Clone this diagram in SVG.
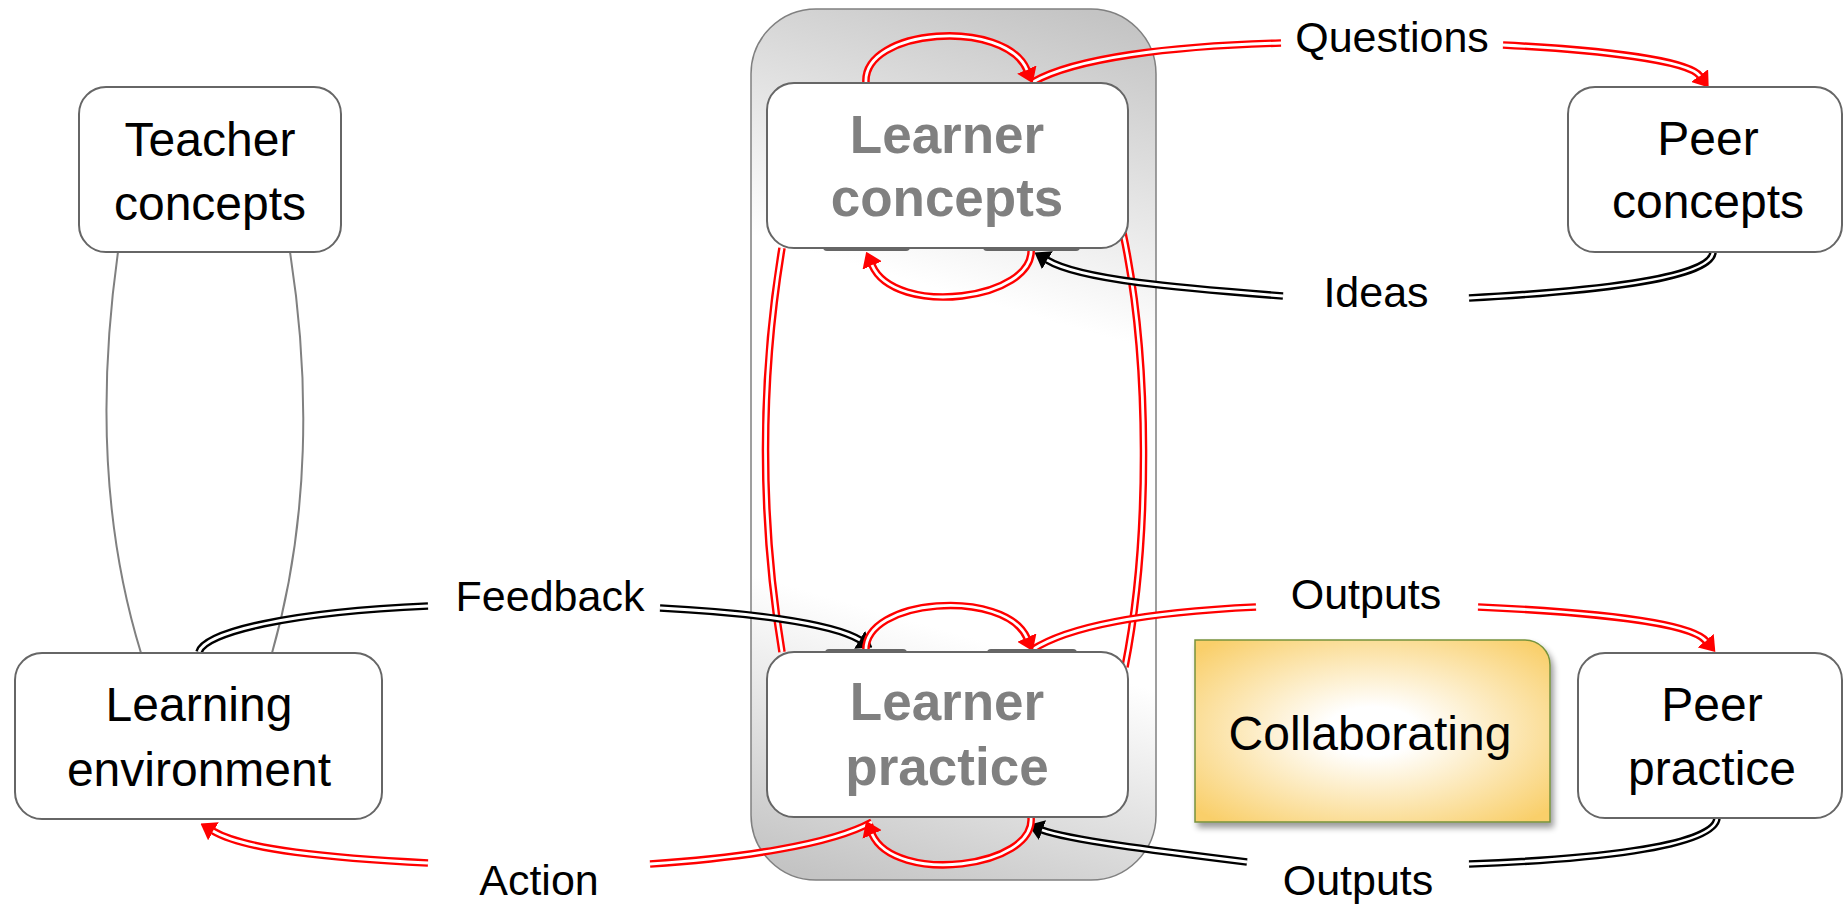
<svg xmlns="http://www.w3.org/2000/svg" width="1844" height="906" viewBox="0 0 1844 906">
<defs>
<style>
.box{fill:#fff;stroke:#666;stroke-width:2}
.t{font-family:"Liberation Sans",Arial,sans-serif;font-size:48px;fill:#000;text-anchor:middle}
.lt{font-family:"Liberation Sans",Arial,sans-serif;font-size:53px;font-weight:bold;fill:#808080;text-anchor:middle}
.lbl{font-family:"Liberation Sans",Arial,sans-serif;font-size:43px;fill:#000;text-anchor:middle}
.r{fill:none;stroke:#f00;stroke-width:7.6}
.k{fill:none;stroke:#000;stroke-width:7.6}
.w{fill:none;stroke:#fff;stroke-width:2.8}
.g{fill:none;stroke:#808080;stroke-width:2}
.ra{marker-end:url(#ar)}
.ka{marker-end:url(#ak)}
.tab{fill:#666}
</style>
<marker id="ar" markerUnits="userSpaceOnUse" markerWidth="15" markerHeight="21" refX="0.5" refY="10.5" orient="auto" viewBox="0 0 15 21"><path d="M0,0 L15,10.5 L0,21 z" fill="#f00"/></marker>
<marker id="ak" markerUnits="userSpaceOnUse" markerWidth="15" markerHeight="21" refX="0.5" refY="10.5" orient="auto" viewBox="0 0 15 21"><path d="M0,0 L15,10.5 L0,21 z" fill="#000"/></marker>
<linearGradient id="cg" gradientUnits="userSpaceOnUse" x1="1080" y1="9" x2="830" y2="880">
<stop offset="0" stop-color="#c4c4c4"/><stop offset="0.34" stop-color="#fff"/><stop offset="0.7" stop-color="#fff"/><stop offset="1" stop-color="#c4c4c4"/>
</linearGradient>
<radialGradient id="cb" cx="0.5" cy="0.5" r="0.66">
<stop offset="0" stop-color="#fff"/><stop offset="0.2" stop-color="#fff"/><stop offset="1" stop-color="#f9cf6a"/>
</radialGradient>
<filter id="sh" x="-5%" y="-5%" width="115%" height="120%">
<feGaussianBlur in="SourceAlpha" stdDeviation="3" result="b"/>
<feOffset in="b" dx="3" dy="5" result="o"/>
<feComponentTransfer in="o" result="s"><feFuncA type="linear" slope="0.4"/></feComponentTransfer>
<feMerge><feMergeNode in="s"/><feMergeNode in="SourceGraphic"/></feMerge>
</filter>
</defs>

<g id="learner-container">
<rect x="751" y="9" width="405" height="871" rx="65" fill="url(#cg)" stroke="#808080" stroke-width="1.5"/>
</g>

<g id="connectors">
<!-- Teacher concepts - Learning environment -->
<path class="g" d="M118,252 C100,380 100,520 141,653"/>
<path class="g" d="M290,252 C310,380 310,520 272,653"/>

<!-- Long verticals between learner boxes -->
<path class="r" d="M782,248 C760,380 760,520 782,652"/>
<path class="w" d="M782,248 C760,380 760,520 782,652"/>
<path class="r" d="M1123,233 C1150,360 1150,540 1125,667"/>
<path class="w" d="M1123,233 C1150,360 1150,540 1125,667"/>

<!-- Feedback -->
<path class="k" d="M199,652 C205,632 290,612 428,606"/>
<path class="w" d="M199,652 C205,632 290,612 428,606"/>
<path class="k ka" d="M660,608 C740,612 830,622 860,640"/>
<path class="w" d="M660,608 C740,612 830,622 860,640"/>
<text class="lbl" x="550" y="611">Feedback</text>

<!-- Action -->
<path class="r" d="M650,864 C740,858 830,845 872,822"/>
<path class="w" d="M650,864 C740,858 830,845 872,822"/>
<path class="r ra" d="M428,863 C330,858 245,850 213,831"/>
<path class="w" d="M428,863 C330,858 245,850 213,831"/>
<text class="lbl" x="539" y="895">Action</text>

<!-- Questions -->
<path class="r" d="M1033,82 C1075,58 1170,46 1281,43"/>
<path class="w" d="M1033,82 C1075,58 1170,46 1281,43"/>
<path class="r ra" d="M1503,45 C1600,50 1688,60 1700,76"/>
<path class="w" d="M1503,45 C1600,50 1688,60 1700,76"/>
<text class="lbl" x="1392" y="52">Questions</text>

<!-- Ideas -->
<path class="k" d="M1713,252 C1712,280 1580,292 1469,298"/>
<path class="w" d="M1713,252 C1712,280 1580,292 1469,298"/>
<path class="k ka" d="M1283,296 C1180,288 1080,280 1047,260"/>
<path class="w" d="M1283,296 C1180,288 1080,280 1047,260"/>
<text class="lbl" x="1376" y="307">Ideas</text>

<!-- Outputs (top) -->
<path class="r" d="M1032,650 C1070,625 1150,612 1256,607"/>
<path class="w" d="M1032,650 C1070,625 1150,612 1256,607"/>
<path class="r ra" d="M1478,607 C1590,612 1690,622 1706,641"/>
<path class="w" d="M1478,607 C1590,612 1690,622 1706,641"/>
<text class="lbl" x="1366" y="609">Outputs</text>

<!-- Outputs (bottom) -->
<path class="k" d="M1717,818 C1715,848 1580,860 1469,864"/>
<path class="w" d="M1717,818 C1715,848 1580,860 1469,864"/>
<path class="k ka" d="M1247,862 C1150,850 1070,840 1042,830"/>
<path class="w" d="M1247,862 C1150,850 1070,840 1042,830"/>
<text class="lbl" x="1358" y="895">Outputs</text>

<!-- Self loops -->
<path class="r ra" d="M866,83 C862,28 1005,18 1027,70"/>
<path class="w" d="M866,83 C862,28 1005,18 1027,70"/>
<path class="r ra" d="M1031,248 C1036,300 895,318 872,265"/>
<path class="w" d="M1031,248 C1036,300 895,318 872,265"/>
<path class="r ra" d="M866,652 C862,598 1005,588 1027,638"/>
<path class="w" d="M866,652 C862,598 1005,588 1027,638"/>
<path class="r ra" d="M1031,817 C1036,868 895,885 872,834"/>
<path class="w" d="M1031,817 C1036,868 895,885 872,834"/>
</g>

<g id="teacher-concepts">
<rect class="box" x="79" y="87" width="262" height="165" rx="27"/>
<text class="t" x="210" y="156">Teacher</text>
<text class="t" x="210" y="220">concepts</text>
</g>

<g id="learner-concepts">
<rect class="tab" x="823" y="240" width="87" height="11" rx="4"/>
<rect class="tab" x="983" y="240" width="97" height="11" rx="4"/>
<rect class="box" x="767" y="83" width="361" height="165" rx="27"/>
<text class="lt" x="947" y="153">Learner</text>
<text class="lt" x="947" y="216">concepts</text>
</g>

<g id="peer-concepts">
<rect class="box" x="1568" y="87" width="274" height="165" rx="27"/>
<text class="t" x="1708" y="155">Peer</text>
<text class="t" x="1708" y="218">concepts</text>
</g>

<g id="learning-environment">
<rect class="box" x="15" y="653" width="367" height="166" rx="27"/>
<text class="t" x="199" y="721">Learning</text>
<text class="t" x="199" y="786">environment</text>
</g>

<g id="learner-practice">
<rect class="tab" x="825" y="649" width="82" height="11" rx="4"/>
<rect class="tab" x="987" y="649" width="90" height="11" rx="4"/>
<rect class="box" x="767" y="652" width="361" height="165" rx="27"/>
<text class="lt" x="947" y="720">Learner</text>
<text class="lt" x="947" y="785">practice</text>
</g>

<g id="peer-practice">
<rect class="box" x="1578" y="653" width="264" height="165" rx="27"/>
<text class="t" x="1712" y="721">Peer</text>
<text class="t" x="1712" y="785">practice</text>
</g>

<g id="collaborating">
<path d="M1195,640 H1525 A25,25 0 0 1 1550,665 V822 H1195 Z" fill="url(#cb)" stroke="#77933c" stroke-width="1.5" filter="url(#sh)"/>
<text class="t" x="1370" y="750">Collaborating</text>
</g>
</svg>
